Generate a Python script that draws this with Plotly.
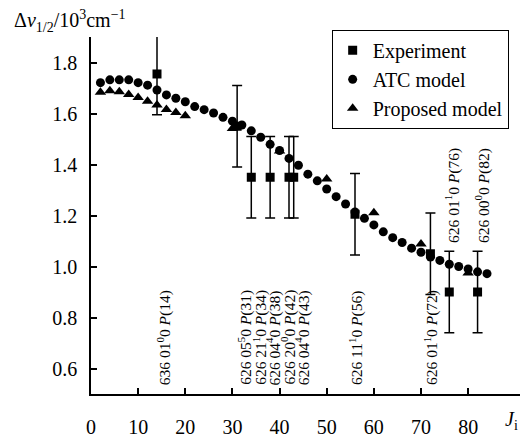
import plotly.graph_objects as go

# Experimental data
J_exp = [14, 31, 34, 38, 42, 43, 56, 72, 76, 82]
y_exp = [1.755, 1.55, 1.35, 1.35, 1.35, 1.35, 1.205, 1.05, 0.90, 0.90]
err_exp = [0.16, 0.16, 0.16, 0.16, 0.16, 0.16, 0.16, 0.16, 0.16, 0.16]

# ATC model
J_atc = [2, 4, 6, 8, 10, 12, 14, 16, 18, 20, 22, 24, 26, 28, 30, 32, 34, 36, 38, 40, 42,
         44, 46, 48, 50, 52, 54, 56, 58, 60, 62, 64, 66, 68, 70, 72, 74, 76, 78, 80, 82, 84]
y_atc = [1.721, 1.732, 1.732, 1.732, 1.721, 1.711, 1.692, 1.673, 1.660, 1.646, 1.627,
         1.615, 1.602, 1.585, 1.570, 1.555, 1.532, 1.507, 1.479, 1.455, 1.424, 1.397,
         1.362, 1.336, 1.304, 1.274, 1.245, 1.214, 1.189, 1.163, 1.136, 1.113, 1.094,
         1.072, 1.056, 1.037, 1.024, 1.009, 1.000, 0.990, 0.979, 0.972]

# Proposed model
J_prop = [2, 4, 6, 8, 10, 12, 14, 16, 18, 20, 30, 40, 50, 60, 70, 80]
y_prop = [1.683, 1.689, 1.685, 1.675, 1.663, 1.648, 1.633, 1.616, 1.604, 1.591,
          1.541, 1.453, 1.343, 1.211, 1.088, 0.975]

# Line labels
label_x = [15.6, 32.7, 35.9, 38.8, 42.0, 44.9, 56.2, 72.2, 76.7, 83.1]
label_text = [
    "636 01<sup>0</sup>0 <i>P</i>(14)",
    "626 05<sup>5</sup>0 <i>P</i>(31)",
    "626 21<sup>1</sup>0 <i>P</i>(34)",
    "626 04<sup>4</sup>0 <i>P</i>(38)",
    "626 20<sup>0</sup>0 <i>P</i>(42)",
    "626 04<sup>4</sup>0 <i>P</i>(43)",
    "626 11<sup>1</sup>0 <i>P</i>(56)",
    "626 01<sup>1</sup>0 <i>P</i>(72)",
    "626 01<sup>1</sup>0 <i>P</i>(76)",
    "626 00<sup>0</sup>0 <i>P</i>(82)",
]
label_base = [0.527, 0.527, 0.527, 0.527, 0.527, 0.527, 0.527, 0.527, 1.085, 1.085]

FONT = "Liberation Serif"

fig = go.Figure()
fig.add_trace(go.Scatter(
    x=J_exp, y=y_exp, mode="markers", name="Experiment",
    marker=dict(symbol="square", size=9, color="black"),
    error_y=dict(type="data", array=err_exp, visible=True, color="black",
                 thickness=1.5, width=5),
))
fig.add_trace(go.Scatter(
    x=J_atc, y=y_atc, mode="markers", name="ATC model",
    marker=dict(symbol="circle", size=9, color="black"),
))
fig.add_trace(go.Scatter(
    x=J_prop, y=y_prop, mode="markers", name="Proposed model",
    marker=dict(symbol="triangle-up", size=10, color="black"),
))

for x, t, b in zip(label_x, label_text, label_base):
    fig.add_annotation(x=x, y=b, xref="x", yref="y", text=t, textangle=-90,
                       showarrow=False, xanchor="center", yanchor="bottom",
                       font=dict(family=FONT, size=15.5, color="black"))

fig.add_annotation(x=-0.184, y=1.045, xref="paper", yref="paper",
                   text="Δ<i>v</i><sub>1/2</sub>/10<sup>3</sup>cm<sup>−1</sup>",
                   showarrow=False, xanchor="left", yanchor="middle",
                   font=dict(family=FONT, size=20, color="black"))
fig.add_annotation(x=0.98, y=-0.075, xref="paper", yref="paper",
                   text="<i>J</i><sub>i</sub>",
                   showarrow=False, xanchor="center", yanchor="middle",
                   font=dict(family=FONT, size=20, color="black"))

fig.update_layout(
    width=526, height=444,
    margin=dict(l=91, r=6, t=37, b=36),
    paper_bgcolor="white", plot_bgcolor="white",
    font=dict(family=FONT, size=20, color="black"),
    showlegend=True,
    legend=dict(x=0.561, y=1.02, xanchor="left", yanchor="top",
                bordercolor="black", borderwidth=1, bgcolor="white",
                font=dict(family=FONT, size=20, color="black"),
                itemwidth=30, tracegroupgap=0),
    xaxis=dict(range=[0, 91], tickvals=[0, 10, 20, 30, 40, 50, 60, 70, 80],
               ticks="inside", ticklen=6, tickwidth=1.5, tickcolor="black",
               showline=True, linecolor="black", linewidth=1.5,
               showgrid=False, zeroline=False, ticklabelstandoff=14),
    yaxis=dict(range=[0.5, 1.9], tickvals=[0.6, 0.8, 1.0, 1.2, 1.4, 1.6, 1.8],
               ticktext=["0.6", "0.8", "1.0", "1.2", "1.4", "1.6", "1.8"],
               ticks="inside", ticklen=6, tickwidth=1.5, tickcolor="black",
               showline=True, linecolor="black", linewidth=1.5,
               showgrid=False, zeroline=False, ticklabelstandoff=8),
)

fig.write_html("out.html")
